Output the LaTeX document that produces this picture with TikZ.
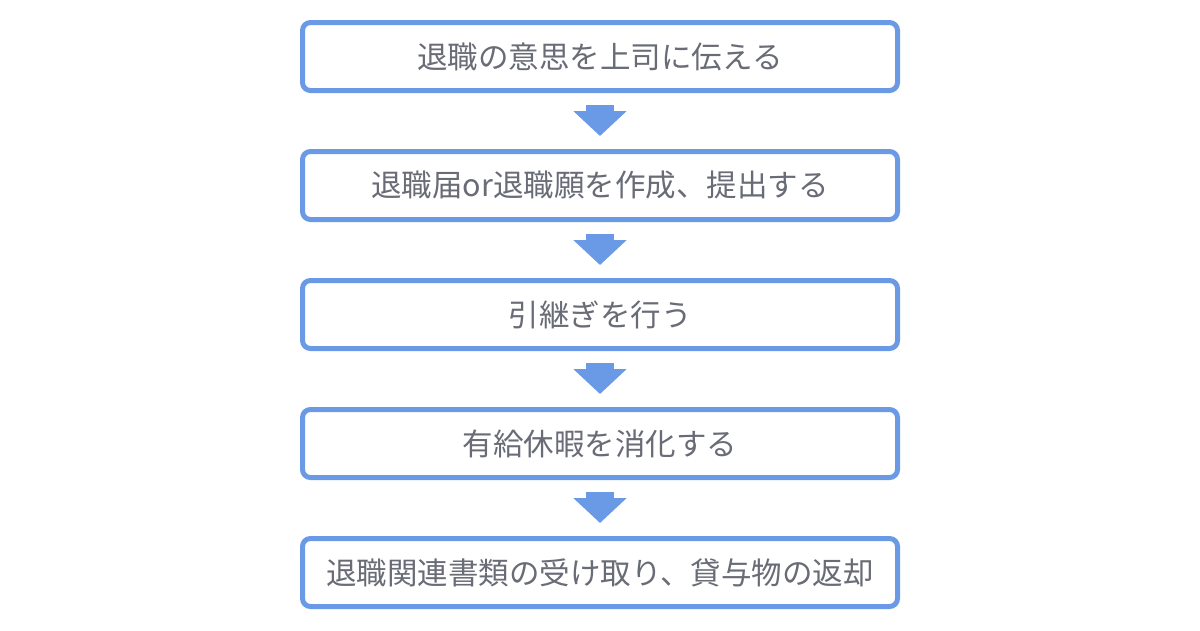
\documentclass[tikz,border=0pt]{standalone}
\usepackage{fontspec}
\setmainfont{Noto Sans CJK JP}
\usetikzlibrary{arrows.meta,positioning}
\definecolor{flowblue}{HTML}{6A9AE6}
\definecolor{flowgray}{HTML}{696C76}

\begin{document}
\begin{tikzpicture}[
  x=1pt, y=-1pt,
  node distance=56pt,
  every node/.style={font=\fontsize{30.5}{36}\selectfont, text=flowgray, align=center},
  stepbox/.style={draw=flowblue, line width=5pt, rounded corners=8pt, fill=white, minimum width=595pt, minimum height=68pt, inner sep=0pt},
  arr/.style={-{Triangle[width=52pt, length=25pt]}, line width=28pt, draw=flowblue, shorten <=12pt, shorten >=13pt}
]
\useasboundingbox (0,0) rectangle (1200,630);
\node[stepbox] (notify) at (600,56.5) {退職の意思を上司に伝える};
\node[stepbox, below=of notify] (submit) {退職届or退職願を作成、提出する};
\node[stepbox, below=of submit] (handover) {引継ぎを行う};
\node[stepbox, below=of handover] (leave) {有給休暇を消化する};
\node[stepbox, below=of leave] (return) {退職関連書類の受け取り、貸与物の返却};
\draw[arr] (notify) -- (submit);
\draw[arr] (submit) -- (handover);
\draw[arr] (handover) -- (leave);
\draw[arr] (leave) -- (return);
\end{tikzpicture}
\end{document}
